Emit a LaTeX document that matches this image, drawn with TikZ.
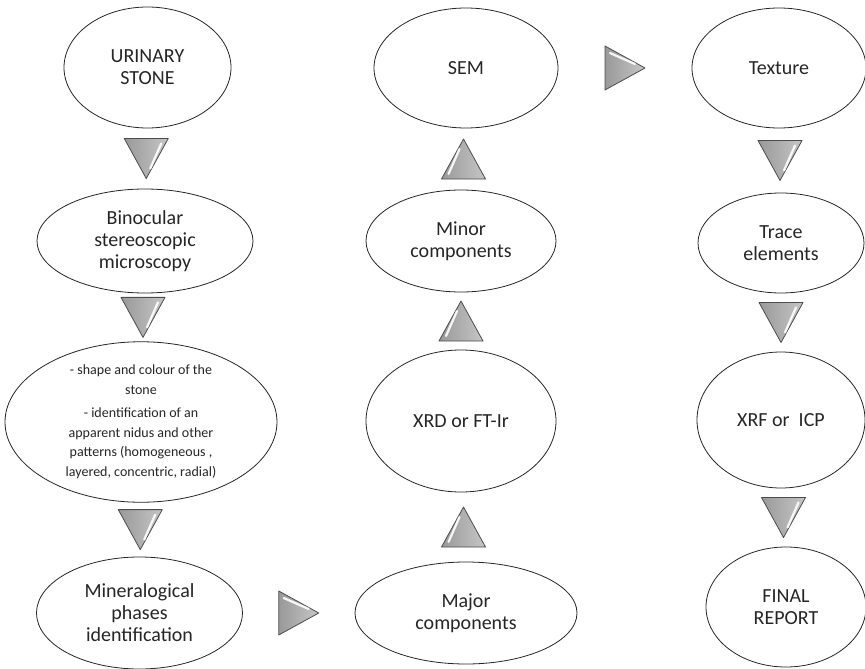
\documentclass[tikz,border=0pt]{standalone}
\usepackage{fontspec}
\setmainfont{Carlito}
\usetikzlibrary{shapes.geometric,calc}
\tikzset{
  oval/.style={ellipse, draw=black!85, line width=0.8pt, fill=white, inner sep=0pt,
    align=center, text=black!85, font=\fontsize{20}{22}\selectfont},
  tri/.pic={
    \path[draw=black!70, line width=0.8pt, line join=round, left color=gray!80, right color=gray!45]
      (-22,-20) -- (22,-20) -- (0,20) -- cycle;
    \draw[white, line width=2.2pt, line cap=round, opacity=0.9]
      (15,-15) .. controls (11,-6) .. (4,10);
  }
}
\begin{document}
\begin{tikzpicture}[x=1pt,y=-1pt]
\useasboundingbox (0,0) rectangle (865,669);
% column 1
\node[oval, minimum width=167, minimum height=121] (urin) at (147.5,67.5) {URINARY\\STONE};
\node[oval, minimum width=216, minimum height=104] (bino) at (145,241) {Binocular\\stereoscopic\\microscopy};
\node[oval, minimum width=272, minimum height=145, font=\fontsize{14}{19.5}\selectfont] (shape) at (141,422)
  {- shape and colour of the\\stone\\[4pt]- identification of an\\apparent nidus and other\\patterns (homogeneous ,\\layered, concentric, radial)};
\node[oval, minimum width=206, minimum height=112] (mine) at (139.5,613) {Mineralogical\\phases\\identification};
% column 2
\node[oval, minimum width=184, minimum height=120] (sem) at (466,68) {SEM};
\node[oval, minimum width=190, minimum height=102] (minor) at (461,241) {Minor\\components};
\node[oval, minimum width=190, minimum height=142] (xrd) at (461,421) {XRD or FT-Ir};
\node[oval, minimum width=222, minimum height=102] (major) at (466,613) {Major\\components};
% column 3
\node[oval, minimum width=174, minimum height=120] (text) at (779,68) {Texture};
\node[oval, minimum width=166, minimum height=100] (trace) at (781,243) {Trace\\elements};
\node[oval, minimum width=168, minimum height=136] (xrf) at (781,420) {XRF or~ ICP};
\node[oval, minimum width=160, minimum height=120] (final) at (786,607) {FINAL\\REPORT};
% arrows (triangles)
\pic at ($(urin.south)!0.5!(bino.north)$) {tri};
\pic at ($(bino.south)!0.5!(shape.north)$) {tri};
\pic at ($(shape.south)!0.5!(mine.north)$) {tri};
\pic[rotate=90] at ($(mine.east)!0.5!(major.west)$) {tri};
\pic[rotate=180] at ($(major.north)!0.5!(xrd.south)$) {tri};
\pic[rotate=180] at ($(xrd.north)!0.5!(minor.south)$) {tri};
\pic[rotate=180] at ($(minor.north)!0.5!(sem.south)$) {tri};
\pic[rotate=90] at ($(sem.east)!0.5!(text.west)$) {tri};
\pic at ($(text.south)!0.5!(trace.north)$) {tri};
\pic at ($(trace.south)!0.5!(xrf.north)$) {tri};
\pic at ($(xrf.south)!0.5!(final.north)$) {tri};
\end{tikzpicture}
\end{document}
